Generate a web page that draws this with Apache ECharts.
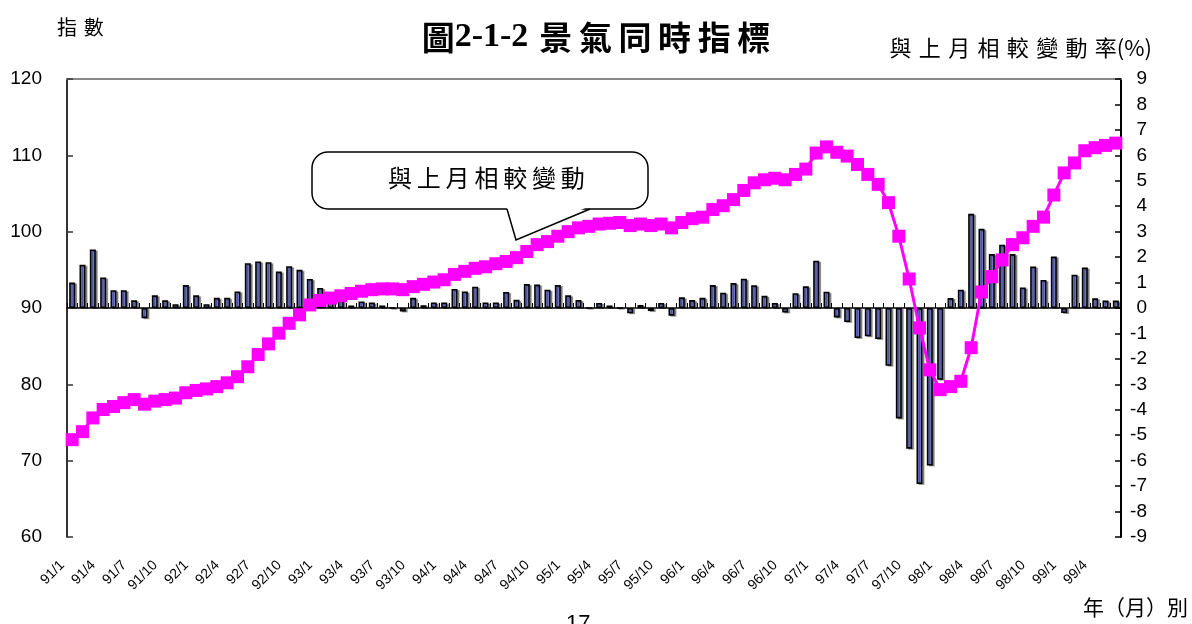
<!DOCTYPE html>
<html><head><meta charset="utf-8">
<script src="https://cdn.jsdelivr.net/npm/echarts@6/dist/echarts.min.js"></script>
<style>html,body{margin:0;padding:0;background:#fff}#c{width:1192px;height:624px}</style>
</head><body><div id="c"></div>
<script>
const categories = [
'91/1','91/2','91/3','91/4','91/5','91/6','91/7','91/8','91/9','91/10','91/11','91/12',
'92/1','92/2','92/3','92/4','92/5','92/6','92/7','92/8','92/9','92/10','92/11','92/12',
'93/1','93/2','93/3','93/4','93/5','93/6','93/7','93/8','93/9','93/10','93/11','93/12',
'94/1','94/2','94/3','94/4','94/5','94/6','94/7','94/8','94/9','94/10','94/11','94/12',
'95/1','95/2','95/3','95/4','95/5','95/6','95/7','95/8','95/9','95/10','95/11','95/12',
'96/1','96/2','96/3','96/4','96/5','96/6','96/7','96/8','96/9','96/10','96/11','96/12',
'97/1','97/2','97/3','97/4','97/5','97/6','97/7','97/8','97/9','97/10','97/11','97/12',
'98/1','98/2','98/3','98/4','98/5','98/6','98/7','98/8','98/9','98/10','98/11','98/12',
'99/1','99/2','99/3','99/4','99/5','99/6'];
// 景氣同時指標 (index, left axis)
const indexValues = [
72.75,73.8,75.6,76.7,77.1,77.6,78.0,77.4,77.8,78.0,78.2,78.9,
79.2,79.4,79.7,80.2,81.0,82.3,83.9,85.3,86.7,88.0,89.1,90.4,
91.0,91.3,91.6,91.9,92.2,92.4,92.5,92.5,92.4,92.8,93.1,93.4,
93.7,94.4,94.8,95.2,95.4,95.8,96.1,96.6,97.4,98.3,98.7,99.4,
100.0,100.5,100.7,101.0,101.1,101.2,100.8,101.0,100.8,101.0,100.5,101.2,
101.7,101.9,102.9,103.4,104.2,105.4,106.4,106.8,107.0,106.8,107.5,108.2,
110.3,111.1,110.4,109.9,108.8,107.5,106.2,103.8,99.4,93.8,87.4,81.9,
79.3,79.7,80.4,84.8,92.1,94.1,96.3,98.3,99.2,100.7,101.9,104.8,
107.7,109.0,110.6,111.0,111.3,111.6];
// 與上月相較變動率 (%, right axis)
const changeValues = [
1.0,1.7,2.3,1.2,0.7,0.7,0.3,-0.4,0.5,0.3,0.15,0.9,
0.5,0.15,0.4,0.4,0.65,1.76,1.83,1.8,1.43,1.64,1.5,1.14,
0.79,0.35,0.3,0.1,0.26,0.22,0.1,0,-0.14,0.4,0.11,0.22,
0.22,0.75,0.65,0.84,0.22,0.22,0.63,0.32,0.94,0.92,0.72,0.9,
0.5,0.31,0,0.2,0.1,0,-0.21,0.12,-0.12,0.2,-0.3,0.42,
0.31,0.4,0.9,0.6,0.98,1.15,0.89,0.48,0.2,-0.18,0.58,0.85,
1.86,0.64,-0.37,-0.55,-1.18,-1.11,-1.22,-2.27,-4.34,-5.53,-6.92,-6.19,
-2.82,0.39,0.72,3.70,3.11,2.12,2.49,2.12,0.81,1.63,1.1,2.02,
-0.2,1.31,1.59,0.38,0.29,0.29];
const leftTicks = {min:60, max:120, interval:10};
const rightTicks = {min:-9, max:9, interval:1};

const CJK = '"Noto Sans CJK TC","Noto Sans CJK SC",sans-serif';
const ARIAL = '"Liberation Sans",Arial,sans-serif';
const TS = '\u2009';
const SP = '\u2004';
const chart = echarts.init(document.getElementById('c'), null, {renderer:'canvas'});
chart.setOption({
  animation:false,
  backgroundColor:'#fff',
  title:{
    text:'{a|圖}{b|2-1-2}{a|'+SP+['景','氣','同','時','指','標'].join(TS)+'}',
    left:'center', top:15,
    textStyle:{rich:{
      a:{fontFamily:CJK,fontSize:33,fontWeight:'bold',color:'#000'},
      b:{fontFamily:'"Liberation Serif","Times New Roman",serif',fontSize:34,fontWeight:'bold',color:'#000'}
    }}
  },
  grid:{left:67,right:71,top:79,bottom:87,containLabel:false},
  xAxis:[
    {type:'category',data:categories,position:'bottom',boundaryGap:true,
     axisLine:{show:false,onZero:false},axisTick:{show:false},
     axisLabel:{interval:2,rotate:45,fontSize:14,fontFamily:ARIAL,color:'#000',margin:16,padding:[0,14,0,0]}},
    {type:'category',data:categories,position:'bottom',boundaryGap:true,
     axisLine:{show:true,onZero:true,onZeroAxisIndex:1,lineStyle:{color:'#000',width:1.5}},
     axisTick:{show:true,inside:true,length:5,interval:0,lineStyle:{color:'#000',width:1}},
     axisLabel:{show:false}},
    {type:'category',data:categories,position:'top',
     axisLine:{show:true,onZero:false,lineStyle:{color:'#888',width:2}},
     axisTick:{show:false},axisLabel:{show:false}}
  ],
  yAxis:[
    {type:'value',position:'left',min:leftTicks.min,max:leftTicks.max,interval:leftTicks.interval,
     axisLine:{show:true,lineStyle:{color:'#333',width:2}},
     axisTick:{show:true,inside:true,length:6,lineStyle:{color:'#333',width:1.5}},
     splitLine:{show:false},
     axisLabel:{fontSize:19,fontFamily:ARIAL,color:'#000',margin:25}},
    {type:'value',position:'right',min:rightTicks.min,max:rightTicks.max,interval:rightTicks.interval,
     axisLine:{show:true,lineStyle:{color:'#000',width:2}},
     axisTick:{show:true,inside:true,length:6,lineStyle:{color:'#000',width:1.5}},
     splitLine:{show:false},
     axisLabel:{fontSize:19,fontFamily:ARIAL,color:'#000',margin:26,align:'right'}}
  ],
  series:[
    {type:'bar',name:'與上月相較變動率',xAxisIndex:0,yAxisIndex:1,data:changeValues,barWidth:6,z:2,
     itemStyle:{color:'#7e86e2',borderColor:'#000',borderWidth:1.6,
       shadowColor:'rgba(0,0,0,0.35)',shadowOffsetX:2,shadowOffsetY:1,shadowBlur:0}},
    {type:'line',name:'景氣同時指標',xAxisIndex:0,yAxisIndex:0,data:indexValues,z:5,
     symbol:'rect',symbolSize:13,showAllSymbol:true,
     lineStyle:{color:'#ff00ff',width:3},
     itemStyle:{color:'#ff00ff',borderWidth:0}}
  ],
  graphic:[
    {type:'text',left:57,top:17,style:{text:'指'+SP+'數',font:'20px '+CJK,fill:'#000'}},
    {type:'text',right:40,top:37,style:{text:['與','上','月','相','較','變','動','率'].join(SP)+'(%)',font:'22px '+CJK,fill:'#000'}},
    {type:'text',right:4,top:597,style:{text:'年（月）別',font:'21px '+CJK,fill:'#000'}},
    {type:'text',left:566,top:613,style:{text:'17',font:'22px '+ARIAL,fill:'#000'}},
    {type:'rect',z:10,shape:{x:312,y:152,width:336,height:57,r:16},
     style:{fill:'#fff',stroke:'#000',lineWidth:1.5}},
    {type:'polygon',z:11,shape:{points:[[506,205],[516,239],[592,205]]},
     style:{fill:'#fff',stroke:null}},
    {type:'polyline',z:12,shape:{points:[[507,209],[516,240],[590,209]]},
     style:{fill:null,stroke:'#000',lineWidth:1.5}},
    {type:'text',z:13,left:388,top:166,style:{text:['與','上','月','相','較','變','動'].join(TS),font:'24px '+CJK,fill:'#000'}}
  ]
});
</script></body></html>
